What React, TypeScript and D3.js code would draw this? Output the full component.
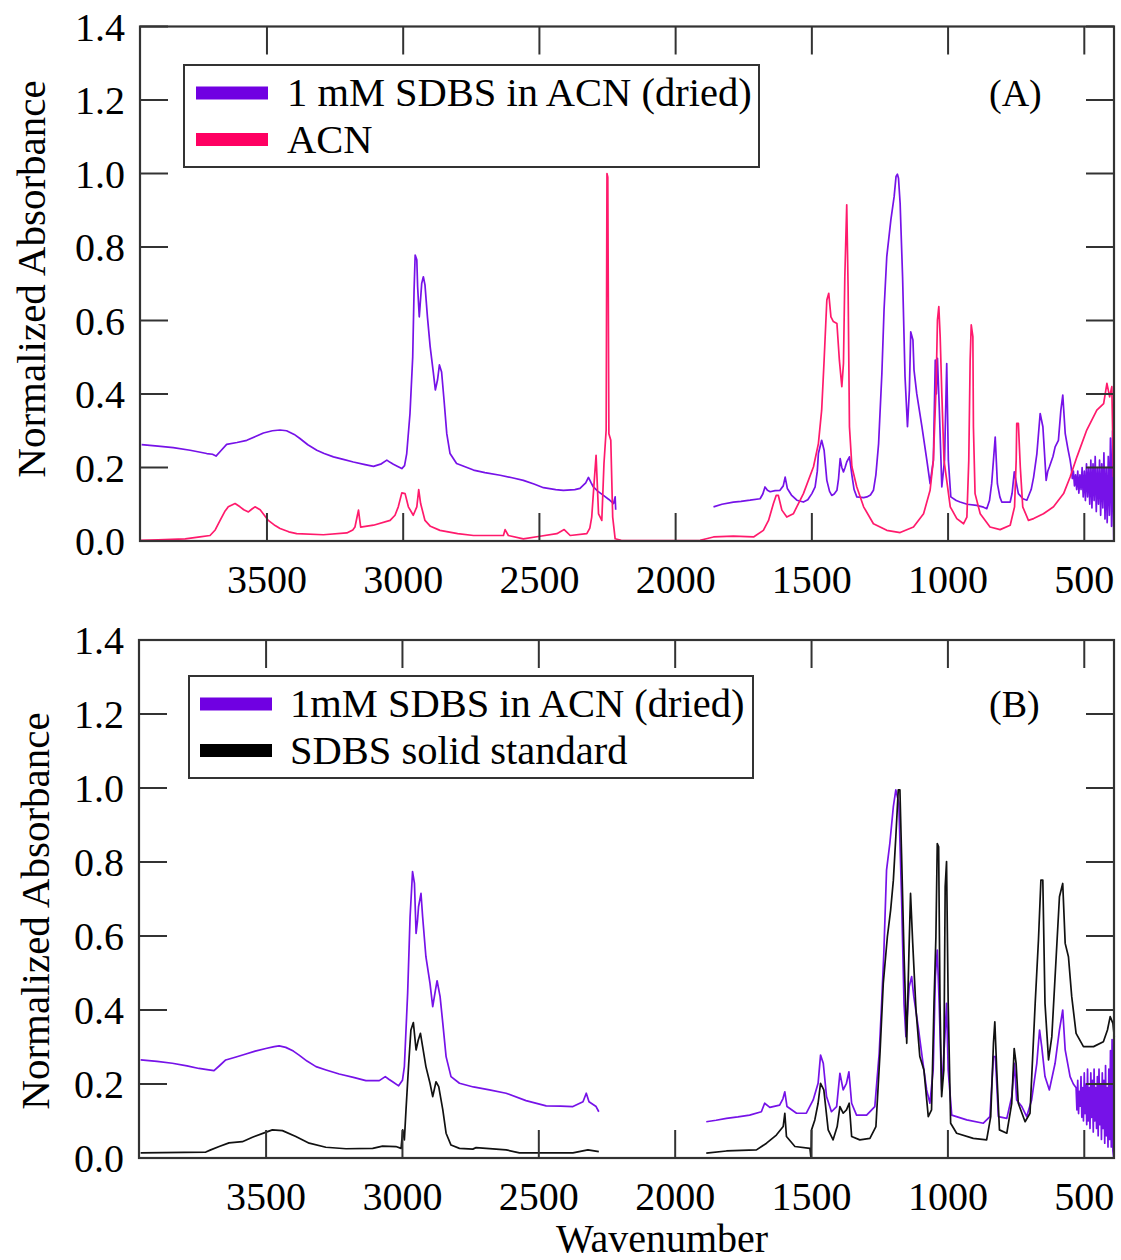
import React from "react";
import * as d3 from "d3";

type Pt = [number, number];

// ---------- Data (wavenumber, normalized absorbance) ----------
const xTicks = [3500, 3000, 2500, 2000, 1500, 1000, 500];
const yTicks = [0, 0.2, 0.4, 0.6, 0.8, 1.0, 1.2, 1.4];

const legendA = ["1 mM SDBS in ACN (dried)", "ACN"];
const legendB = ["1mM SDBS in ACN (dried)", "SDBS solid standard"];

// Panel A: SDBS in ACN (dried), high-wavenumber segment
const topSdbsHigh: Pt[] = [
  [3960, 0.262], [3900, 0.258], [3844, 0.254], [3782, 0.247], [3721, 0.238], [3700, 0.236], [3687, 0.231],
  [3670, 0.245], [3648, 0.263], [3610, 0.268], [3574, 0.274], [3540, 0.285], [3513, 0.294], [3480, 0.3],
  [3452, 0.302], [3428, 0.3], [3400, 0.29], [3379, 0.279], [3350, 0.262], [3317, 0.247], [3290, 0.238],
  [3256, 0.229], [3220, 0.222], [3183, 0.215], [3140, 0.208], [3109, 0.203], [3080, 0.21], [3060, 0.22],
  [3048, 0.214], [3036, 0.209], [3020, 0.203], [3005, 0.197], [2995, 0.205], [2987, 0.238], [2975, 0.347],
  [2965, 0.501], [2960, 0.683], [2956, 0.778], [2950, 0.765], [2947, 0.692], [2941, 0.61], [2936, 0.66],
  [2932, 0.701], [2926, 0.719], [2920, 0.697], [2911, 0.61], [2901, 0.529], [2889, 0.456], [2882, 0.411],
  [2874, 0.438], [2867, 0.479], [2859, 0.46], [2850, 0.383], [2840, 0.292], [2828, 0.238], [2804, 0.211],
  [2742, 0.193], [2700, 0.186], [2644, 0.179], [2600, 0.172], [2559, 0.165], [2520, 0.155], [2485, 0.145],
  [2440, 0.14], [2412, 0.138], [2370, 0.14], [2351, 0.143], [2330, 0.158], [2320, 0.173], [2310, 0.158],
  [2302, 0.147], [2285, 0.135], [2265, 0.124], [2245, 0.113], [2228, 0.102], [2222, 0.12], [2220, 0.085],
];

// Panel A: SDBS in ACN (dried), low-wavenumber segment
const topSdbsLow: Pt[] = [
  [1861, 0.093], [1830, 0.1], [1788, 0.106], [1760, 0.108], [1727, 0.111], [1690, 0.115], [1680, 0.128],
  [1672, 0.147], [1663, 0.138], [1653, 0.134], [1635, 0.137], [1617, 0.138], [1605, 0.15], [1598, 0.174],
  [1590, 0.143], [1575, 0.125], [1555, 0.111], [1531, 0.106], [1515, 0.112], [1500, 0.129], [1488, 0.147],
  [1480, 0.19], [1476, 0.238], [1464, 0.274], [1455, 0.247], [1445, 0.165], [1435, 0.135], [1427, 0.124],
  [1418, 0.128], [1408, 0.138], [1402, 0.17], [1396, 0.224], [1390, 0.2], [1384, 0.188], [1378, 0.2],
  [1372, 0.215], [1362, 0.229], [1353, 0.179], [1345, 0.14], [1335, 0.12], [1310, 0.118], [1298, 0.12],
  [1285, 0.125], [1274, 0.138], [1265, 0.18], [1255, 0.265], [1243, 0.456], [1235, 0.629], [1225, 0.774],
  [1210, 0.874], [1198, 0.937], [1191, 0.992], [1186, 0.998], [1182, 0.987], [1176, 0.919], [1167, 0.719],
  [1158, 0.447], [1149, 0.311], [1142, 0.411], [1137, 0.569], [1129, 0.547], [1125, 0.465], [1115, 0.401],
  [1096, 0.311], [1078, 0.22], [1066, 0.156], [1054, 0.22], [1047, 0.492], [1043, 0.4], [1039, 0.497],
  [1032, 0.356], [1023, 0.147], [1013, 0.22], [1005, 0.483], [999, 0.22], [990, 0.12], [970, 0.11],
  [956, 0.106], [930, 0.1], [895, 0.097], [870, 0.092], [858, 0.088], [848, 0.11], [840, 0.156],
  [827, 0.283], [819, 0.156], [810, 0.12], [803, 0.106], [772, 0.106], [765, 0.13], [757, 0.188],
  [750, 0.16], [742, 0.129], [725, 0.115], [711, 0.111], [695, 0.14], [686, 0.174], [674, 0.238],
  [662, 0.347], [652, 0.311], [640, 0.165], [634, 0.19], [628, 0.202], [615, 0.23], [607, 0.256],
  [595, 0.274], [586, 0.356], [579, 0.397], [570, 0.292], [560, 0.25], [552, 0.22],
  [548, 0.2], [544, 0.17], [540, 0.19], [536, 0.15], [532, 0.18], [528, 0.14], [524, 0.19], [520, 0.13],
  [516, 0.18], [512, 0.14], [508, 0.2], [504, 0.12], [500, 0.19], [496, 0.11], [492, 0.21], [488, 0.12],
  [484, 0.2], [480, 0.1], [476, 0.22], [472, 0.09], [468, 0.21], [464, 0.11], [460, 0.23], [456, 0.08],
  [452, 0.2], [448, 0.1], [444, 0.22], [440, 0.07], [436, 0.21], [432, 0.09], [428, 0.24], [424, 0.06],
  [420, 0.2], [416, 0.05], [412, 0.23], [408, 0.07], [404, 0.28], [400, 0.04], [396, 0.3], [392, 0.0],
];

// Panel A: ACN
const topAcn: Pt[] = [
  [3966, 0.002], [3900, 0.003], [3800, 0.006], [3746, 0.011], [3709, 0.015], [3690, 0.03], [3672, 0.056],
  [3655, 0.08], [3642, 0.093], [3617, 0.102], [3599, 0.093], [3585, 0.085], [3568, 0.079], [3555, 0.087],
  [3544, 0.093], [3525, 0.085], [3495, 0.056], [3470, 0.042], [3452, 0.034], [3420, 0.025], [3391, 0.02],
  [3293, 0.017], [3207, 0.022], [3185, 0.03], [3177, 0.038], [3168, 0.07], [3164, 0.084], [3160, 0.06],
  [3156, 0.038], [3109, 0.043], [3048, 0.056], [3030, 0.07], [3018, 0.093], [3005, 0.131], [2993, 0.129],
  [2981, 0.093], [2963, 0.07], [2950, 0.093], [2943, 0.14], [2936, 0.102], [2920, 0.056], [2900, 0.04],
  [2865, 0.029], [2800, 0.02], [2742, 0.015], [2632, 0.015], [2626, 0.031], [2614, 0.015], [2559, 0.006],
  [2498, 0.013], [2436, 0.02], [2409, 0.031], [2387, 0.015], [2326, 0.02], [2315, 0.035], [2308, 0.065],
  [2300, 0.15], [2292, 0.233], [2283, 0.074], [2271, 0.056], [2263, 0.211], [2255, 0.302], [2252, 1.0],
  [2249, 0.99], [2245, 0.292], [2238, 0.274], [2231, 0.065], [2222, 0.006], [2200, 0.002], [2000, 0.001],
  [1910, 0.002], [1861, 0.011], [1788, 0.013], [1714, 0.011], [1678, 0.029], [1659, 0.056], [1641, 0.102],
  [1631, 0.124], [1623, 0.124], [1610, 0.084], [1592, 0.065], [1568, 0.074], [1531, 0.129], [1494, 0.202],
  [1476, 0.265], [1464, 0.356], [1455, 0.492], [1445, 0.656], [1438, 0.674], [1430, 0.61], [1421, 0.597],
  [1408, 0.592], [1399, 0.492], [1390, 0.42], [1384, 0.483], [1379, 0.719], [1372, 0.915], [1367, 0.692],
  [1362, 0.311], [1353, 0.202], [1335, 0.147], [1310, 0.093], [1274, 0.047], [1225, 0.029], [1176, 0.023],
  [1127, 0.038], [1090, 0.074], [1066, 0.138], [1054, 0.22], [1044, 0.42], [1039, 0.601], [1034, 0.638],
  [1029, 0.556], [1023, 0.401], [1015, 0.22], [992, 0.093], [968, 0.061], [943, 0.047], [931, 0.065],
  [924, 0.22], [919, 0.492], [915, 0.588], [909, 0.556], [907, 0.311], [901, 0.129], [882, 0.074],
  [846, 0.038], [809, 0.031], [772, 0.043], [756, 0.093], [750, 0.22], [748, 0.32], [742, 0.32],
  [735, 0.202], [726, 0.093], [705, 0.056], [686, 0.061], [650, 0.074], [613, 0.093], [576, 0.129],
  [552, 0.174], [527, 0.229], [491, 0.302], [454, 0.356], [429, 0.374], [417, 0.429], [407, 0.392],
  [399, 0.42], [393, 0.174],
];

// Panel B: SDBS in ACN (dried)
const botSdbsHigh: Pt[] = [
  [3960, 0.265], [3900, 0.261], [3844, 0.256], [3790, 0.249], [3746, 0.242], [3710, 0.238], [3691, 0.236],
  [3670, 0.25], [3648, 0.265], [3610, 0.273], [3574, 0.281], [3540, 0.289], [3501, 0.296], [3470, 0.301],
  [3452, 0.303], [3428, 0.299], [3400, 0.289], [3379, 0.278], [3350, 0.262], [3317, 0.247], [3280, 0.238],
  [3232, 0.227], [3180, 0.218], [3134, 0.209], [3085, 0.209], [3063, 0.22], [3050, 0.213], [3036, 0.206],
  [3014, 0.195], [3000, 0.21], [2993, 0.247], [2981, 0.445], [2972, 0.652], [2963, 0.774], [2956, 0.742],
  [2950, 0.607], [2945, 0.64], [2941, 0.679], [2932, 0.715], [2926, 0.652], [2914, 0.544], [2899, 0.472],
  [2889, 0.409], [2879, 0.454], [2873, 0.479], [2862, 0.436], [2852, 0.364], [2840, 0.274], [2822, 0.22],
  [2791, 0.202], [2740, 0.192], [2681, 0.184], [2620, 0.175], [2547, 0.155], [2473, 0.141], [2420, 0.14],
  [2375, 0.139], [2338, 0.152], [2326, 0.175], [2316, 0.152], [2290, 0.139], [2280, 0.125],
];

const botSdbsLow: Pt[] = [
  [1886, 0.098], [1850, 0.102], [1812, 0.107], [1770, 0.111], [1727, 0.116], [1684, 0.125], [1672, 0.148],
  [1653, 0.137], [1617, 0.143], [1605, 0.16], [1598, 0.179], [1590, 0.139], [1555, 0.121], [1519, 0.121],
  [1494, 0.157], [1476, 0.202], [1467, 0.278], [1457, 0.256], [1445, 0.166], [1427, 0.125], [1408, 0.139],
  [1396, 0.229], [1384, 0.184], [1372, 0.202], [1363, 0.233], [1353, 0.148], [1335, 0.116], [1298, 0.116],
  [1268, 0.139], [1252, 0.283], [1243, 0.418], [1235, 0.553], [1225, 0.778], [1213, 0.85], [1200, 0.95],
  [1191, 0.995], [1180, 0.959], [1170, 0.706], [1161, 0.418], [1154, 0.328], [1142, 0.463], [1133, 0.49],
  [1125, 0.436], [1109, 0.355], [1093, 0.265], [1078, 0.184], [1066, 0.148], [1054, 0.238], [1046, 0.49],
  [1039, 0.562], [1032, 0.418], [1023, 0.184], [1011, 0.328], [1005, 0.418], [999, 0.238], [986, 0.116],
  [931, 0.103], [870, 0.094], [846, 0.112], [833, 0.274], [826, 0.274], [815, 0.112], [784, 0.107],
  [766, 0.166], [756, 0.256], [748, 0.157], [729, 0.139], [711, 0.112], [693, 0.157], [674, 0.256],
  [664, 0.346], [656, 0.301], [644, 0.22], [628, 0.184], [607, 0.256], [591, 0.346], [579, 0.4],
  [570, 0.292], [552, 0.22], [540, 0.2],
  [530, 0.19], [527, 0.13], [524, 0.21], [521, 0.12], [518, 0.18], [515, 0.14], [512, 0.22], [509, 0.11],
  [506, 0.19], [503, 0.1], [500, 0.23], [497, 0.12], [494, 0.2], [491, 0.09], [488, 0.24], [485, 0.1],
  [482, 0.19], [479, 0.08], [476, 0.23], [473, 0.11], [470, 0.21], [467, 0.07], [464, 0.24], [461, 0.1],
  [458, 0.19], [455, 0.08], [452, 0.22], [449, 0.06], [446, 0.24], [443, 0.09], [440, 0.2], [437, 0.05],
  [434, 0.23], [431, 0.08], [428, 0.21], [425, 0.04], [422, 0.25], [419, 0.06], [416, 0.19], [413, 0.03],
  [410, 0.24], [407, 0.05], [404, 0.29], [401, 0.03], [398, 0.32], [395, 0.02], [392, 0.0],
];

// Panel B: SDBS solid standard
const botStdHigh: Pt[] = [
  [3960, 0.014], [3800, 0.015], [3721, 0.016], [3703, 0.022], [3672, 0.031], [3636, 0.041], [3587, 0.044],
  [3550, 0.056], [3507, 0.068], [3477, 0.076], [3440, 0.074], [3391, 0.058], [3342, 0.04], [3281, 0.029],
  [3207, 0.025], [3109, 0.026], [3073, 0.032], [3024, 0.031], [3005, 0.026], [2999, 0.076], [2993, 0.049],
  [2987, 0.13], [2977, 0.256], [2969, 0.346], [2960, 0.366], [2950, 0.292], [2942, 0.319], [2934, 0.337],
  [2926, 0.301], [2914, 0.247], [2899, 0.202], [2889, 0.166], [2877, 0.206], [2867, 0.193], [2852, 0.13],
  [2840, 0.067], [2822, 0.035], [2791, 0.026], [2742, 0.024], [2730, 0.028], [2620, 0.022], [2571, 0.014],
  [2375, 0.014], [2320, 0.022], [2280, 0.017],
];

const botStdLow: Pt[] = [
  [1886, 0.013], [1812, 0.019], [1702, 0.022], [1665, 0.04], [1629, 0.062], [1604, 0.085], [1598, 0.121],
  [1592, 0.058], [1561, 0.031], [1506, 0.026], [1502, 0.0], [1500, 0.076], [1488, 0.103], [1476, 0.148], [1467, 0.202],
  [1455, 0.184], [1439, 0.076], [1421, 0.049], [1406, 0.085], [1396, 0.139], [1384, 0.121], [1372, 0.13],
  [1362, 0.148], [1353, 0.058], [1323, 0.049], [1286, 0.053], [1264, 0.085], [1249, 0.283], [1237, 0.472],
  [1222, 0.598], [1210, 0.67], [1200, 0.751], [1191, 0.868], [1182, 0.995], [1176, 0.995], [1170, 0.823],
  [1161, 0.553], [1151, 0.31], [1143, 0.553], [1137, 0.715], [1129, 0.58], [1117, 0.4], [1103, 0.274],
  [1088, 0.238], [1072, 0.112], [1060, 0.13], [1051, 0.418], [1044, 0.598], [1039, 0.85], [1034, 0.841],
  [1029, 0.418], [1023, 0.166], [1015, 0.238], [1010, 0.733], [1005, 0.801], [999, 0.418], [990, 0.094],
  [968, 0.067], [907, 0.053], [858, 0.049], [843, 0.112], [833, 0.31], [828, 0.368], [821, 0.238],
  [811, 0.076], [784, 0.067], [766, 0.148], [757, 0.296], [750, 0.256], [742, 0.148], [717, 0.098],
  [699, 0.121], [680, 0.418], [668, 0.589], [659, 0.751], [652, 0.751], [644, 0.418], [631, 0.265],
  [619, 0.328], [603, 0.544], [591, 0.706], [579, 0.742], [570, 0.58], [558, 0.544], [546, 0.436],
  [530, 0.337], [503, 0.301], [466, 0.301], [430, 0.314], [415, 0.346], [405, 0.382], [395, 0.364],
  [390, 0.328],
];

// ---------- Styling ----------
const FONT = "'Liberation Serif', 'Times New Roman', Times, serif";
const PURPLE_LEG = "#7000e2";
const PURPLE = "#7612e8";
const PINK_LEG = "#ff0062";
const PINK = "#ff1a6c";
const BLACK = "#111";
const AXIS = "#333";

type Series = { segments: Pt[][]; color: string };

type PanelProps = {
  left: number;
  right: number;
  top: number;
  bottom: number;
  series: Series[];
  legend: { labels: string[]; colors: string[]; box: [number, number, number, number]; swX: number; textX: number; rows: number[] };
  tag: string;
  tagPos: [number, number];
  xLabelY: number;
  titleX: number;
  titleY: number;
};

function Panel(p: PanelProps) {
  const x = d3.scaleLinear().domain([3966, 391]).range([p.left, p.right]);
  const y = d3.scaleLinear().domain([0, 1.4]).range([p.bottom, p.top]);
  const line = d3
    .line<Pt>()
    .x((d) => x(d[0]))
    .y((d) => y(d[1]));
  const T = 28;
  const [bx, by, bw, bh] = p.legend.box;
  return (
    <g>
      {p.series.map((s, i) =>
        s.segments.map((seg, j) => (
          <path key={`${i}-${j}`} d={line(seg) || ""} fill="none" stroke={s.color} strokeWidth={1.7} strokeLinejoin="round" />
        ))
      )}
      <rect x={p.left} y={p.top} width={p.right - p.left} height={p.bottom - p.top} fill="none" stroke={AXIS} strokeWidth={2.2} />
      {yTicks.map((t) => (
        <g key={`y${t}`}>
          <line x1={p.left} x2={p.left + T} y1={y(t)} y2={y(t)} stroke={AXIS} strokeWidth={2} />
          <line x1={p.right} x2={p.right - T} y1={y(t)} y2={y(t)} stroke={AXIS} strokeWidth={2} />
          <text x={p.left - 15} y={y(t)} dy="0.35em" textAnchor="end" fontSize={40} fontFamily={FONT} fill="#000">
            {t.toFixed(1)}
          </text>
        </g>
      ))}
      {xTicks.map((t) => (
        <g key={`x${t}`}>
          <line x1={x(t)} x2={x(t)} y1={p.bottom} y2={p.bottom - T} stroke={AXIS} strokeWidth={2} />
          <line x1={x(t)} x2={x(t)} y1={p.top} y2={p.top + T} stroke={AXIS} strokeWidth={2} />
          <text x={x(t)} y={p.xLabelY} textAnchor="middle" fontSize={40} fontFamily={FONT} fill="#000">
            {t}
          </text>
        </g>
      ))}
      <text
        transform={`translate(${p.titleX},${p.titleY}) rotate(-90)`}
        textAnchor="middle"
        fontSize={41}
        fontFamily={FONT}
        fill="#000"
      >
        Normalized Absorbance
      </text>
      <rect x={bx} y={by} width={bw} height={bh} fill="#fff" stroke={AXIS} strokeWidth={2} />
      {p.legend.labels.map((lab, i) => (
        <g key={lab}>
          <rect x={p.legend.swX} y={p.legend.rows[i] - 6.5} width={72} height={13} fill={p.legend.colors[i]} />
          <text x={p.legend.textX} y={p.legend.rows[i] + 13} fontSize={40.5} fontFamily={FONT} fill="#000">
            {lab}
          </text>
        </g>
      ))}
      <text x={p.tagPos[0]} y={p.tagPos[1]} fontSize={38} fontFamily={FONT} fill="#000">
        {p.tag}
      </text>
    </g>
  );
}

export default function App() {
  return (
    <svg width={1121} height={1260} style={{ position: "absolute", left: 0, top: 0, background: "#fff" }}>
      <rect x={0} y={0} width={1121} height={1260} fill="#fff" />
      <Panel
        left={140}
        right={1114}
        top={26.5}
        bottom={541}
        series={[
          { segments: [topSdbsHigh, topSdbsLow], color: PURPLE },
          { segments: [topAcn], color: PINK },
        ]}
        legend={{ labels: legendA, colors: [PURPLE_LEG, PINK_LEG], box: [184, 65, 575, 102], swX: 196, textX: 287, rows: [93, 139.5] }}
        tag="(A)"
        tagPos={[989, 106]}
        xLabelY={593}
        titleX={45}
        titleY={279}
      />
      <Panel
        left={139}
        right={1114}
        top={640}
        bottom={1158}
        series={[
          { segments: [botSdbsHigh, botSdbsLow], color: PURPLE },
          { segments: [botStdHigh, botStdLow], color: BLACK },
        ]}
        legend={{ labels: legendB, colors: [PURPLE_LEG, "#000"], box: [189, 676, 564, 102], swX: 200, textX: 290, rows: [704, 750.5] }}
        tag="(B)"
        tagPos={[989, 717]}
        xLabelY={1210}
        titleX={49}
        titleY={911}
      />
      <text x={662} y={1252} textAnchor="middle" fontSize={40} fontFamily={FONT} fill="#000">
        Wavenumber
      </text>
    </svg>
  );
}
